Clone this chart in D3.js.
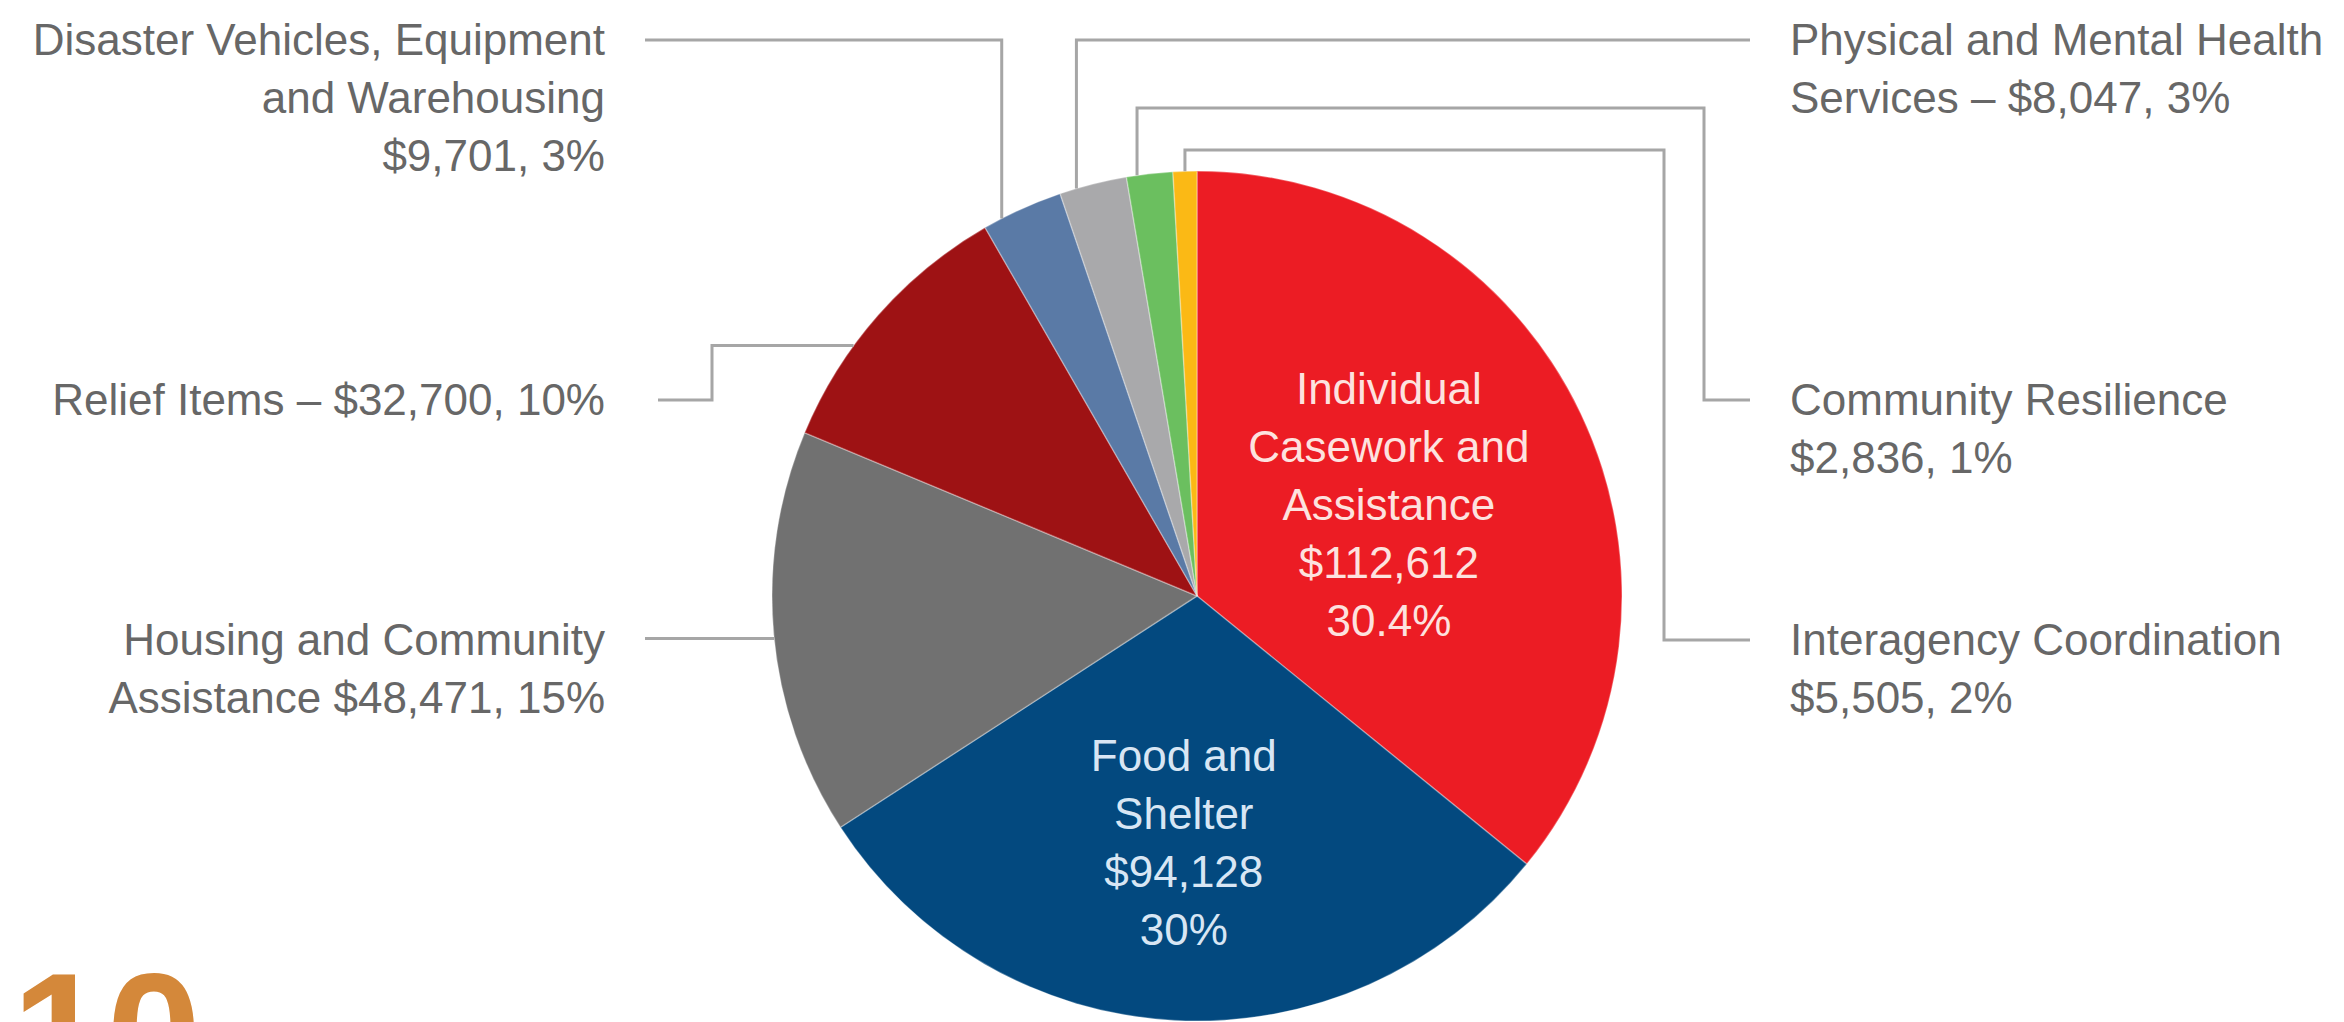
<!DOCTYPE html>
<html lang="en">
<head>
  <meta charset="utf-8">
  <title>Disaster spending pie</title>
  <script src="https://cdn.jsdelivr.net/npm/d3@7"></script>
  <style>
    body { margin: 0; background: #fff; }
    text { font-family: "Liberation Sans", Arial, sans-serif; }
    .lbl { fill: #676767; font-size: 44px; }
    .inside { font-size: 44px; }
    .leader { fill: none; stroke: #a6a6a6; stroke-width: 3; }
  </style>
</head>
<body>
<script>
  // data, clockwise from 12 o'clock
  var categories = ["Individual Casework and Assistance", "Food and Shelter",
    "Housing and Community Assistance", "Relief Items",
    "Disaster Vehicles, Equipment and Warehousing", "Physical and Mental Health Services",
    "Interagency Coordination", "Community Resilience"];
  var values = [112612, 94128, 48471, 32700, 9701, 8047, 5505, 2836];
  var percents = ["30.4%", "30%", "15%", "10%", "3%", "3%", "2%", "1%"];
  var nameLines = [["Individual", "Casework and", "Assistance"], ["Food and", "Shelter"],
    ["Housing and Community", "Assistance"], ["Relief Items"],
    ["Disaster Vehicles, Equipment", "and Warehousing"], ["Physical and Mental Health", "Services"],
    ["Interagency Coordination"], ["Community Resilience"]];
  var colors = ["#ec1c24", "#03497f", "#717171", "#9e1214", "#5a7aa6", "#a9a9ab", "#6bbf5f", "#fbb915"];

  var width = 2344, height = 1022;
  var cx = 1197, cy = 596, radius = 425;
  var lineGap = 58;
  var fmt = d3.format("$,");

  // how the value joins the name, where each label sits, and where its leader touches the slice (at = 0..1 across the slice)
  var layout = [
    { join: "inside", r: 0.5, fill: "#fde2df" },
    { join: "inside", r: 0.58, fill: "#d8e6f4" },
    { join: " ", x: 605, y: 640, anchor: "end", at: 0.49, legs: [["h", 645]] },
    { join: " \u2013 ", x: 605, y: 400, anchor: "end", at: 0.36, legs: [["h", 712], ["v", 400], ["h", 658]] },
    { join: "newline", x: 605, y: 40, anchor: "end", at: 0.23, legs: [["v", 40], ["h", 645]] },
    { join: " \u2013 ", x: 1790, y: 40, anchor: "start", at: 0.25, legs: [["v", 40], ["h", 1750]] },
    // leader of the green slice runs to the upper label, orange to the lower one, as drawn
    { join: "newline", x: 1790, y: 640, anchor: "start", from: 7, at: 0.5, legs: [["v", 150], ["h", 1664], ["v", 640], ["h", 1750]] },
    { join: "newline", x: 1790, y: 400, anchor: "start", from: 6, at: 0.23, legs: [["v", 108], ["h", 1704], ["v", 400], ["h", 1750]] }
  ];

  function textLines(i) {
    var names = nameLines[i].slice(), L = layout[i];
    var v = fmt(values[i]), p = percents[i];
    if (L.join === "inside") return names.concat([v, p]);
    if (L.join === "newline") return names.concat([v + ", " + p]);
    names[names.length - 1] += L.join + v + ", " + p;
    return names;
  }

  var svg = d3.select("body").append("svg")
    .attr("width", width)
    .attr("height", height);

  var pie = d3.pie().sort(null).value(function(d) { return d; });
  var arcs = pie(values);
  var arc = d3.arc().innerRadius(0).outerRadius(radius);

  var g = svg.append("g").attr("transform", "translate(" + cx + "," + cy + ")");

  g.selectAll("path.slice")
    .data(arcs)
    .enter().append("path")
    .attr("class", "slice")
    .attr("d", arc)
    .attr("fill", function(d, i) { return colors[i]; })
    .attr("stroke", "rgba(255,255,255,0.3)")
    .attr("stroke-width", 1.5);

  // leader lines
  layout.forEach(function(L, i) {
    if (!L.legs) return;
    var a = arcs[L.from !== undefined ? L.from : i];
    var ang = a.startAngle + (a.endAngle - a.startAngle) * L.at;
    var x = cx + radius * Math.sin(ang), y = cy - radius * Math.cos(ang);
    var pts = [[x, y]];
    L.legs.forEach(function(leg) {
      if (leg[0] === "v") y = leg[1]; else x = leg[1];
      pts.push([x, y]);
    });
    svg.append("path")
      .attr("class", "leader")
      .attr("d", d3.line()(pts));
  });

  // labels
  layout.forEach(function(L, i) {
    var lines = textLines(i);
    var t;
    if (L.join === "inside") {
      var a = arcs[i];
      var c = d3.arc().innerRadius(radius * L.r).outerRadius(radius * L.r).centroid(a);
      var top = cy + c[1] - (lines.length - 1) * lineGap / 2;
      t = svg.append("text")
        .attr("class", "inside")
        .attr("fill", L.fill)
        .attr("text-anchor", "middle");
      lines.forEach(function(s, k) {
        t.append("tspan").attr("x", cx + c[0]).attr("y", top + k * lineGap).attr("dy", "0.35em").text(s);
      });
    } else {
      t = svg.append("text")
        .attr("class", "lbl")
        .attr("text-anchor", L.anchor);
      lines.forEach(function(s, k) {
        t.append("tspan").attr("x", L.x).attr("y", L.y + k * lineGap).attr("dy", "0.35em").text(s);
      });
    }
  });

  // page number peeking in at the bottom edge
  svg.append("text")
    .attr("x", 12)
    .attr("y", 1092)
    .attr("fill", "#d4883a")
    .style("font-size", "170px")
    .style("font-weight", "bold")
    .text("10");
</script>
</body>
</html>
